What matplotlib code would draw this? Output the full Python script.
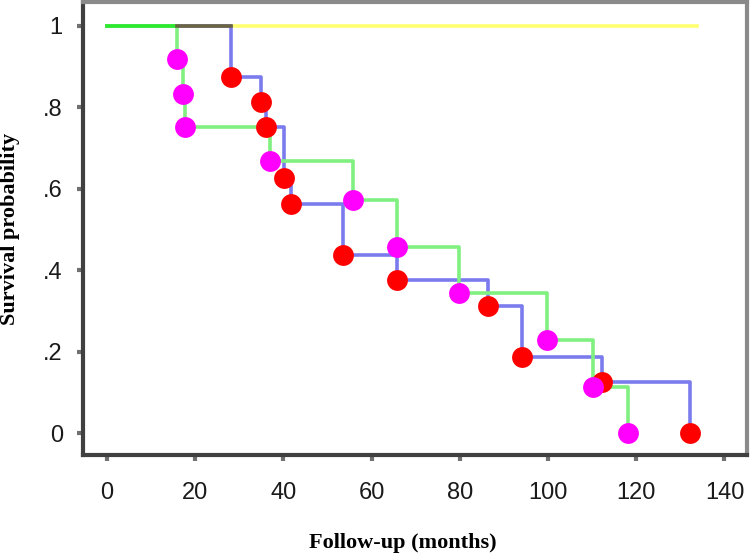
import matplotlib
matplotlib.use("Agg")
import matplotlib.pyplot as plt
from matplotlib.ticker import MultipleLocator, FixedLocator

# group with events marked in red (blue step line)
blue_t = [28.1, 35.0, 36.0, 40.1, 41.8, 53.6, 65.7, 86.3, 94.1, 112.2, 132.2]
blue_s = [0.875, 0.8125, 0.75, 0.625, 0.5625, 0.4375, 0.375, 0.3125, 0.1875, 0.125, 0.0]

# group with events marked in magenta (green step line)
green_t = [16.0, 17.2, 17.7, 37.0, 55.9, 65.7, 79.9, 99.8, 110.1, 118.2]
green_s = [0.917, 0.833, 0.75, 0.667, 0.571, 0.457, 0.343, 0.229, 0.114, 0.0]

# group with no events (yellow line)
yellow_end = 133.8

x_ticks = [0, 20, 40, 60, 80, 100, 120, 140]
y_ticks = [0, 0.2, 0.4, 0.6, 0.8, 1.0]
y_ticklabels = ["0", ".2", ".4", ".6", ".8", "1"]

W, H = 750, 555
fig = plt.figure(figsize=(W / 100, H / 100), dpi=100)
ax = fig.add_axes([83 / W, 1 - 455 / H, (746.5 - 83) / W, (455 - 2) / H])

LW = 2.6
ax.plot([0, yellow_end], [1, 1], color="#ffff70", lw=LW, zorder=1)
ax.step([0] + blue_t, [1] + blue_s, where="post", color="#7b7bee", lw=LW, zorder=2)
ax.step([0] + green_t, [1] + green_s, where="post", color="#80f080", lw=LW, zorder=3)
# overlapping stretches on the top line
ax.plot([0, green_t[0]], [1, 1], color="#2eea2e", lw=LW, zorder=3.5)
ax.plot([green_t[0], blue_t[0]], [1, 1], color="#6b6545", lw=LW, zorder=3.5)

ax.plot(blue_t, blue_s, "o", color="#ff0000", ms=15, mec="none", zorder=4)
ax.plot(green_t, green_s, "o", color="#ff00ff", ms=15, mec="none", zorder=5)

ax.set_xlim(-5.4, 145)
ax.set_ylim(-0.054, 1.058)

for side in ["left", "bottom"]:
    ax.spines[side].set_color("#404040")
    ax.spines[side].set_linewidth(3)
for side in ["top", "right"]:
    ax.spines[side].set_color("#8a8a8a")
    ax.spines[side].set_linewidth(3)

ax.xaxis.set_major_locator(FixedLocator(x_ticks))
ax.xaxis.set_minor_locator(MultipleLocator(5))
ax.yaxis.set_major_locator(FixedLocator(y_ticks))
ax.yaxis.set_minor_locator(MultipleLocator(0.1))
ax.set_yticklabels(y_ticklabels)

ax.tick_params(which="major", direction="out", length=4.5, width=3, color="#707070",
               labelcolor="#1a1a1a", labelsize=17)
ax.tick_params(which="minor", direction="out", length=1.5, width=1.5, color="#404040")
ax.tick_params(axis="x", which="major", pad=15)
ax.tick_params(axis="y", which="major", pad=10)
for lab in ax.get_xticklabels() + ax.get_yticklabels():
    lab.set_fontfamily("Liberation Sans")

fig.text(403 / W, 1 - 543 / H, "Follow-up (months)", ha="center", va="center",
         fontfamily="Liberation Serif", fontweight="bold", fontsize=16)
fig.text(10 / W, 1 - 229 / H, "Survival probability", ha="center", va="center",
         rotation=90, fontfamily="Liberation Serif", fontweight="bold", fontsize=16)

fig.savefig("out.png", dpi=100)
